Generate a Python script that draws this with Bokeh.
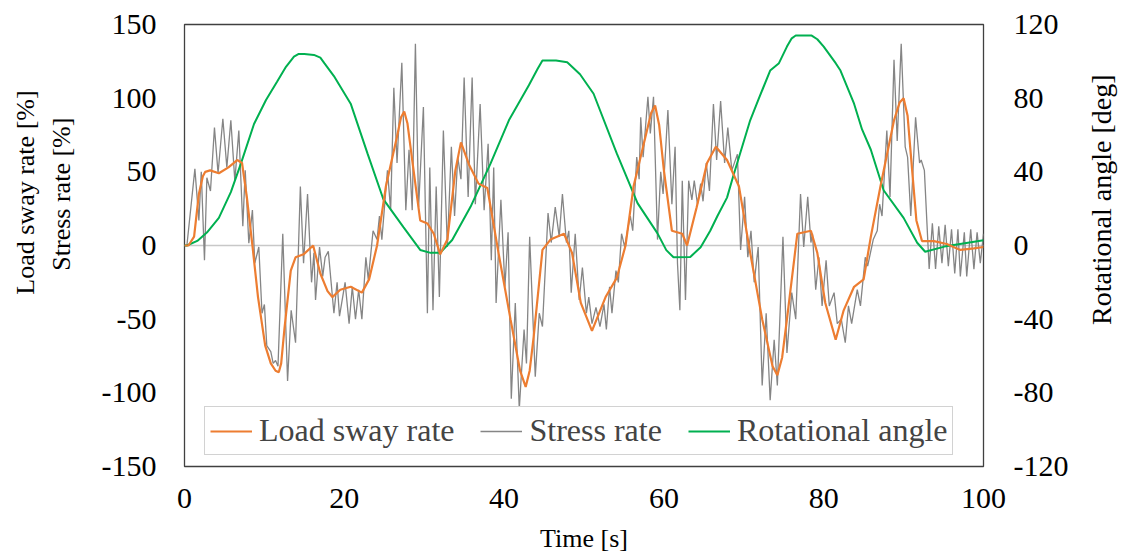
import math
from bokeh.plotting import figure
from bokeh.layouts import row
from bokeh.models import Range1d, LinearAxis, FixedTicker, Span, Legend, LegendItem, Label
from bokeh.embed import file_html
from bokeh.resources import INLINE

FONT = "Liberation Serif"

# ---- data ----
time_ticks = [0, 20, 40, 60, 80, 100]
rate_ticks = [-150, -100, -50, 0, 50, 100, 150]
angle_ticks = [-120, -80, -40, 0, 40, 80, 120]

load_t = [0, 0.5, 1.2, 1.8, 2.3, 2.6, 3.2, 4.3, 5.5, 6.6, 7.2, 7.8, 8.5, 9.2, 10.1,
          10.8, 11.4, 11.8, 12.1, 12.5, 13.3, 13.9, 14.9, 16.1, 17.0, 17.9, 18.5, 19.5, 20.8, 22.2,
          23.1, 24.1, 25.2, 26.6, 27.1, 27.5, 27.9, 28.5, 29.5, 30.4, 31.2, 32.0, 32.9, 33.9, 34.6,
          35.6, 36.8, 37.9, 39.3, 40.8, 42.0, 42.7, 43.2, 43.7, 44.8, 45.8, 47.5, 48.5, 49.6, 51.0,
          52.7, 54.1, 55.2, 56.2, 57.7, 58.4, 58.9, 59.4, 60.0, 61.0, 62.3, 62.9, 64.1, 65.4, 66.5,
          67.9, 69.4, 70.8, 72.3, 73.6, 74.2, 74.8, 75.4, 76.7, 78.4, 79.2, 80.2, 81.5, 82.5, 83.8,
          85.0, 85.9, 87.1, 88.8, 89.5, 90.0, 90.5, 90.9, 91.6, 92.3, 93.8, 95.4, 97.1, 98.8, 100]
load_v = [0, 0, 6, 35, 47, 50, 51, 49, 53, 58, 56, 33, 0, -35, -68,
          -80, -85, -86, -80, -57, -17, -8, -6, 0, -19, -31, -35, -30, -28, -32,
          -23, 0, 40, 74, 87, 91, 83, 58, 17, 15, 8, -6, 4, 51, 70,
          55, 42, 39, -5, -50, -85, -96, -85, -62, -3, 4, 8, -5, -39, -58,
          -35, -22, 0, 40, 74, 90, 95, 82, 51, 10, 8, 0, 26, 56, 67,
          58, 40, -5, -50, -82, -88, -76, -50, 8, 10, -5, -39, -64, -44, -28,
          -23, 6, 40, 85, 97, 100, 88, 62, 17, 3, 3, 1, -3, -2, -1]

stress_t = [0, 0.3, 1.3, 1.8, 2.1, 2.5, 2.8, 3.25, 3.75, 4.2,
            4.8, 5.3, 5.8, 6.3, 6.8, 7.3, 7.6, 8.05, 8.5, 8.8,
            9.3, 9.7, 10.0, 10.3, 10.8, 11.1, 11.4, 11.7, 12.3, 12.9,
            13.35, 13.9, 14.5, 14.9, 15.4, 15.9, 16.2, 16.4, 16.9, 17.3,
            17.6, 18.0, 18.7, 19.1, 19.4, 20.1, 20.6, 21.0, 21.4, 21.8,
            22.2, 22.7, 23.0, 23.6, 24.1, 24.4, 24.7, 25.4, 25.8, 26.2,
            26.6, 27.2, 27.7, 28.1, 28.5, 28.9, 29.3, 29.9, 30.4, 30.7,
            31.1, 31.5, 31.9, 32.4, 32.9, 33.4, 33.8, 34.2, 34.6, 35.0,
            35.5, 36.0, 36.4, 37.0, 37.5, 38.0, 38.4, 38.7, 39.0, 39.6,
            40.1, 40.5, 40.9, 41.4, 41.9, 42.5, 42.8, 43.2, 43.9, 44.4,
            44.8, 45.5, 45.9, 46.4, 46.9, 47.3, 47.8, 48.1, 48.4, 48.9,
            49.4, 49.8, 50.3, 50.6, 51.0, 51.5, 52.0, 52.5, 52.8, 53.2,
            53.5, 54.0, 54.3, 54.7, 55.1, 55.5, 55.8, 56.1, 56.6, 56.9,
            57.1, 57.4, 58.0, 58.3, 58.7, 59.2, 59.6, 59.9, 60.5, 61.0,
            61.4, 61.7, 62.0, 62.3, 62.7, 63.1, 63.5, 63.8, 64.2, 64.6,
            64.9, 65.3, 65.7, 66.2, 66.6, 67.1, 67.6, 68.0, 68.5, 69.2,
            69.6, 70.1, 70.5, 70.9, 71.3, 71.8, 72.3, 72.8, 73.3, 73.8,
            74.2, 74.9, 75.4, 76.0, 76.5, 77.1, 77.5, 78.0, 78.4, 78.6,
            79.0, 79.4, 79.8, 80.3, 80.7, 81.3, 81.7, 82.2, 82.7, 83.1,
            83.5, 84.2, 84.6, 85.2, 85.5, 86.2, 86.7, 87.0, 87.3, 87.9,
            88.3, 88.8, 89.2, 89.7, 90.2, 90.5, 90.9, 91.5, 92.0, 92.2,
            92.6, 93.2, 93.6, 94.0, 94.4, 94.8, 95.2, 95.6, 96.0, 96.4,
            96.8, 97.1, 97.6, 97.9, 98.4, 98.8, 99.2, 99.6, 100]
stress_v = [0, 0, 52, 17, 50, -10, 46, 37, 80, 49,
            86, 53, 85, 44, 78, 13, 51, 1.5, 24, -12,
            -1, -46, -40, -68, -72, -80, -78, -82, 8, -92,
            -44, -66, 40, -12, 35, -25, -5, -37, -1, -21,
            -8, -4, -46, -25, -48, -25, -53, -28, -50, -30,
            -50, -8, -23, 10, 4, 20, 4, 51, 24, 107,
            56, 124, 24, 65, 24, 137, 26, 94, -46, 53,
            -44, 40, -35, 78, -1, 67, 20, 60, 45, 114,
            33, 114, 28, 96, 24, 69, -10, 53, -39, 31,
            -28, 9, -104, -39, -111, -57, -80, 6, -89, -46,
            -55, 22, 2, 26, 6, 35, 2, 10, -32, 8,
            -37, -15, -46, -35, -53, -42, -55, -40, -57, -28,
            -46, -17, -25, 8, -1, 12, 20, 10, 60, 45,
            87, 60, 101, 76, 101, 4, 50, 35, 92, 28,
            67, -12, -44, 44, -37, 44, 31, 44, 28, 42,
            30, 56, 37, 96, 58, 98, 56, 80, 51, 62,
            -3, 33, -8, 10, -25, -1, -95, -46, -105, -64,
            -95, 6, -73, -32, -50, 35, -1, 33, 2, 8,
            -30, -8, -41, -10, -41, -32, -53, -50, -66, -41,
            -53, -30, -41, -8, -14, 4, 10, 28, 20, 78,
            33, 126, 71, 137, 67, 60, 20, 87, 56, 58,
            51, -16, 15, -16, 13, -12, 14, -14, 11, -19,
            11, -21, 9, -21, 11, -16, 9, -12, 8]

rot_t = [0, 0.3, 1.6, 2.8, 4.3, 5.8, 7.1, 8.7, 10.2, 11.6,
         12.7, 13.7, 14.3, 15.0, 16.2, 17.0, 17.5, 18.7, 20.8, 22.9,
         24.9, 27.4, 29.5, 30.8, 32.0, 33.5, 35.8, 38.3, 40.6, 43.1,
         44.2, 44.8, 46.5, 47.9, 49.5, 51.2, 54.1, 56.7, 59.2, 60.3,
         61.2, 63.3, 64.6, 65.8, 66.7, 67.9, 68.7, 70.8, 71.9, 73.3,
         74.4, 75.4, 76.0, 76.5, 78.5, 79.2, 80.0, 81.5, 82.1, 83.8,
         84.8, 85.9, 87.5, 90.0, 91.7, 92.7, 95.1, 100]
rot_v = [0, 0, 2.5, 7, 15, 29, 45, 66, 79, 89,
         97, 102.5, 104, 104, 103.5, 102, 99, 92, 77, 50,
         25, 10, -2.4, -4, -4, 3, 21, 44.5, 68, 87,
         96, 100.5, 100.5, 99.5, 93, 82.4, 50, 23, 6.6, -2.5,
         -6.4, -6.2, -1, 8, 16, 26, 38, 68, 80, 95,
         99, 108, 112.5, 114, 114, 112, 108, 99, 95, 77,
         63, 52, 30, 15, 1.5, -3.4, -0.6, 2.8]

# ---- main figure ----
W_LEFT, W_RIGHT = 90, 40
W_MAIN = 1121 - W_LEFT - W_RIGHT

p = figure(width=W_MAIN, height=555, output_backend="svg", toolbar_location=None,
           x_range=Range1d(0, 100), y_range=Range1d(-150, 150),
           min_border_left=184 - W_LEFT, min_border_right=(W_LEFT + W_MAIN) - 983,
           min_border_top=24, min_border_bottom=88)
p.extra_y_ranges = {"ang": Range1d(-120, 120)}
p.xgrid.visible = False
p.ygrid.visible = False
p.outline_line_color = "#404040"
p.outline_line_width = 1.3
p.background_fill_color = "white"
p.border_fill_color = "white"

zero = Span(location=0, dimension="width", line_color="#c8c8c8", line_width=1.5,
            level="underlay")
p.add_layout(zero)

r_s = p.line(stress_t, stress_v, line_color="#858585", line_width=1.3)
r_r = p.line(rot_t, rot_v, line_color="#00B050", line_width=2, y_range_name="ang")
r_l = p.line(load_t, load_v, line_color="#ED7D31", line_width=2.2)

rax = LinearAxis(y_range_name="ang")
p.add_layout(rax, "right")

p.xaxis[0].ticker = FixedTicker(ticks=time_ticks)
p.yaxis[0].ticker = FixedTicker(ticks=rate_ticks)
rax.ticker = FixedTicker(ticks=angle_ticks)
p.xaxis[0].major_label_overrides = {t: str(t) for t in time_ticks}
p.yaxis[0].major_label_overrides = {t: str(t) for t in rate_ticks}
rax.major_label_overrides = {t: str(t) for t in angle_ticks}

for ax in [p.xaxis[0], p.yaxis[0], rax]:
    ax.axis_line_color = None
    ax.major_tick_line_color = None
    ax.minor_tick_line_color = None
    ax.major_tick_out = 0
    ax.major_tick_in = 0
    ax.major_label_text_font = FONT
    ax.major_label_text_font_size = "30px"
    ax.major_label_text_color = "black"

p.yaxis[0].major_label_standoff = 28
rax.major_label_standoff = 30
p.xaxis[0].major_label_standoff = 22
p.xaxis[0].axis_label = "Time [s]"
p.xaxis[0].axis_label_text_font = FONT
p.xaxis[0].axis_label_text_font_size = "26px"
p.xaxis[0].axis_label_text_font_style = "normal"
p.xaxis[0].axis_label_text_color = "black"
p.xaxis[0].axis_label_standoff = 13

legend = Legend(items=[LegendItem(label="Load sway rate", renderers=[r_l]),
                       LegendItem(label="Stress rate", renderers=[r_s]),
                       LegendItem(label="Rotational angle", renderers=[r_r])],
                orientation="horizontal", location=(20, 11), margin=0, padding=5,
                label_text_font=FONT, label_text_font_size="32px",
                glyph_width=42, label_standoff=7, spacing=26,
                border_line_color="#a6a6a6", border_line_width=1,
                background_fill_color="white", background_fill_alpha=1)
p.add_layout(legend)


# ---- side strips carrying the rotated axis titles ----
def strip(width):
    f = figure(width=width, height=555, output_backend="svg", toolbar_location=None,
               x_range=Range1d(0, width), y_range=Range1d(555, 0),
               x_axis_type=None, y_axis_type=None, min_border=0)
    f.outline_line_color = None
    f.background_fill_color = "white"
    f.border_fill_color = "white"
    f.grid.visible = False
    return f


left_strip = strip(W_LEFT)
right_strip = strip(W_RIGHT)

for fig, txt, x, y, fs in [(left_strip, "Load sway rate [%]", 24.5, 211, "26px"),
                           (left_strip, "Stress rate [%]", 61, 213, "26px"),
                           (right_strip, "Rotational angle [deg]", 1101 - (W_LEFT + W_MAIN), 220, "28px")]:
    fig.add_layout(Label(x=x, y=y, text=txt, angle=math.pi / 2,
                         text_align="center", text_baseline="middle",
                         text_font=FONT, text_font_size=fs, text_color="black"))

layout = row(left_strip, p, right_strip)
open("out.html", "w").write(file_html(layout, INLINE))
